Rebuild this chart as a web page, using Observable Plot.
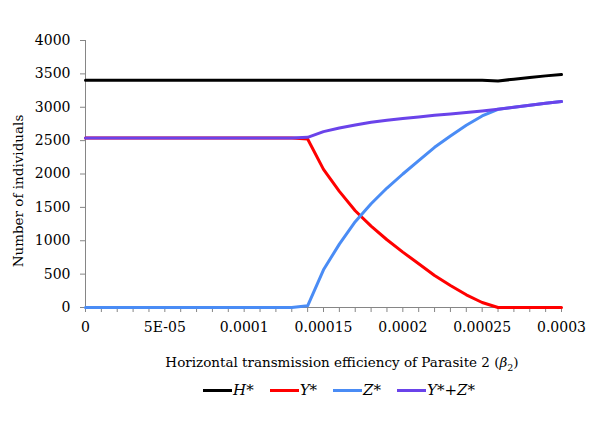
<!DOCTYPE html>
<html><head><meta charset="utf-8">
<script src="https://cdn.jsdelivr.net/npm/d3@7"></script>
<script src="https://cdn.jsdelivr.net/npm/@observablehq/plot@0.6"></script>
<style>
body{margin:0;background:#fff;font-family:'DejaVu Serif';}
#wrap{position:relative;width:600px;height:424px;overflow:hidden;background:#fff;}
#chart{position:absolute;left:0;top:0;}
#ytitle{position:absolute;left:18px;top:191px;transform:translate(-50%,-50%) rotate(-90deg);white-space:nowrap;font-size:13.5px;color:#000;}
#xtitle{position:absolute;left:0;width:684px;text-align:center;top:352px;white-space:nowrap;font-size:13.5px;color:#000;line-height:20px;}
#legend{position:absolute;left:0;width:678px;top:380px;display:flex;justify-content:center;align-items:center;gap:16px;font-size:15px;line-height:20px;color:#000;}
.item{display:flex;align-items:center;}
.sw{display:inline-block;width:29px;height:3px;margin-right:1px;}
.lab{font-style:italic;}
</style></head>
<body>
<div id="wrap">
  <div id="chart"></div>
  <div id="ytitle">Number of individuals</div>
  <div id="xtitle">Horizontal transmission efficiency of Parasite 2 (<i>β</i><sub style="font-size:9.5px">2</sub>)</div>
  <div id="legend"></div>
</div>
<script>
const beta = [0, 0.00001, 0.00002, 0.00003, 0.00004, 0.00005, 0.00006, 0.00007, 0.00008, 0.00009,
  0.0001, 0.00011, 0.00012, 0.00013, 0.00014, 0.00015, 0.00016, 0.00017, 0.00018, 0.00019,
  0.0002, 0.00021, 0.00022, 0.00023, 0.00024, 0.00025, 0.00026, 0.00027, 0.00028, 0.00029, 0.0003];
const H = [3405, 3405, 3405, 3405, 3405, 3405, 3405, 3405, 3405, 3405,
  3405, 3405, 3405, 3405, 3405, 3405, 3405, 3405, 3405, 3405,
  3405, 3405, 3405, 3405, 3405, 3405, 3395, 3420, 3445, 3470, 3490];
const Y = [2540, 2540, 2540, 2540, 2540, 2540, 2540, 2540, 2540, 2540,
  2540, 2540, 2540, 2540, 2525, 2070, 1740, 1450, 1220, 1015,
  830, 655, 480, 330, 190, 75, 0, 0, 0, 0, 0];
const Z = [0, 0, 0, 0, 0, 0, 0, 0, 0, 0,
  0, 0, 0, 0, 25, 565, 950, 1285, 1555, 1790,
  2000, 2200, 2400, 2570, 2730, 2870, 2970, 3000, 3030, 3060, 3085];
const YZ = [2540, 2540, 2540, 2540, 2540, 2540, 2540, 2540, 2540, 2540,
  2540, 2540, 2540, 2540, 2550, 2635, 2690, 2735, 2775, 2805,
  2830, 2855, 2880, 2900, 2920, 2945, 2970, 3000, 3030, 3060, 3085];
const seriesNames = ["H*", "Y*", "Z*", "Y*+Z*"];
const seriesColors = ["#000000", "#FF0000", "#4A8CF5", "#6A43EA"];
const xTickValues = [0, 0.00005, 0.0001, 0.00015, 0.0002, 0.00025, 0.0003];
const xTickLabels = ["0", "5E-05", "0.0001", "0.00015", "0.0002", "0.00025", "0.0003"];
const yTickValues = [0, 500, 1000, 1500, 2000, 2500, 3000, 3500, 4000];

const seriesValues = [H, Y, Z, YZ];
const rows = seriesNames.flatMap((name, s) => beta.map((b, i) => ({beta: b, value: seriesValues[s][i], series: name})));

const chart = Plot.plot({
  width: 600, height: 345,
  marginLeft: 85, marginRight: 39, marginTop: 40, marginBottom: 38,
  style: {fontFamily: "'DejaVu Serif'", fontSize: "14px", background: "white", color: "black", overflow: "visible"},
  x: {domain: [0, 0.0003]},
  y: {domain: [0, 4000]},
  color: {domain: seriesNames, range: seriesColors},
  marks: [
    Plot.axisY({ticks: yTickValues, tickSize: 5, tickPadding: 10, stroke: "#868686", fill: "black", label: null, tickFormat: d => String(d), fontSize: 14}),
    Plot.axisX({ticks: beta, tickSize: 5, stroke: "#868686", text: null, label: null}),
    Plot.axisX({ticks: xTickValues, tickSize: 0, tickPadding: 15, fill: "black", label: null,
      tickFormat: d => xTickLabels[xTickValues.indexOf(d)], fontSize: 14}),
    Plot.ruleX([0], {stroke: "#868686"}),
    Plot.ruleY([0], {stroke: "#868686"}),
    Plot.line(rows, {x: "beta", y: "value", z: "series", stroke: "series", strokeWidth: 3, strokeLinejoin: "round"})
  ]
});
document.getElementById("chart").appendChild(chart);

const legend = document.getElementById("legend");
seriesNames.forEach((name, i) => {
  const item = document.createElement("div");
  item.className = "item";
  const sw = document.createElement("span");
  sw.className = "sw";
  sw.style.background = seriesColors[i];
  const lab = document.createElement("span");
  lab.className = "lab";
  lab.textContent = name;
  item.appendChild(sw); item.appendChild(lab);
  legend.appendChild(item);
});
</script>
</body></html>
